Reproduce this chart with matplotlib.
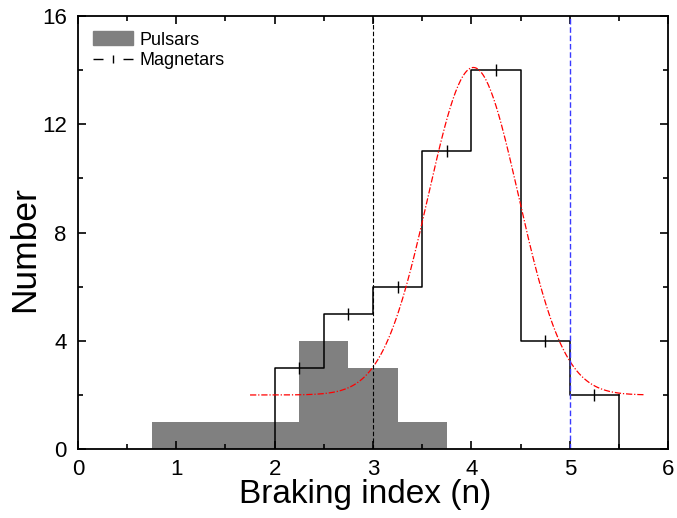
import numpy as np
import matplotlib.pyplot as plt
from matplotlib.lines import Line2D
from matplotlib.patches import Patch
from matplotlib.ticker import MultipleLocator

plt.rcParams['font.family'] = ['Liberation Sans', 'DejaVu Sans']

# pulsar histogram (bin centres, counts)
pulsar_n = [1.0, 1.5, 2.0, 2.5, 3.0, 3.5]
pulsar_count = [1, 1, 1, 4, 3, 1]

# magnetar histogram (bin edges, counts)
mag_edges = [2.0, 2.5, 3.0, 3.5, 4.0, 4.5, 5.0, 5.5]
mag_count = [3, 5, 6, 11, 14, 4, 2]

# gaussian fit to magnetars
fit_y0 = 2.0
fit_amp = 12.1
fit_xc = 4.02
fit_sigma = 0.46
fit_range = (1.75, 5.75)

fig = plt.figure(figsize=(6.77, 5.18), dpi=100)
ax = fig.add_axes([0.115, 0.133, 0.872, 0.836])

ax.bar(pulsar_n, pulsar_count, width=0.5, color='#808080', linewidth=0)

# magnetar step outline
xs = [mag_edges[0]] + mag_edges
ys = [0] + mag_count + [mag_count[-1]]
ax.step(xs, ys, where='post', color='k', lw=1.1)
ax.plot([mag_edges[-1], mag_edges[-1]], [mag_count[-1], 0], color='k', lw=1.1)
centres = [(a + b) / 2 for a, b in zip(mag_edges[:-1], mag_edges[1:])]
ax.plot(centres, mag_count, ls='none', marker='|', ms=8, mew=1.0, color='k')

xf = np.linspace(fit_range[0], fit_range[1], 300)
yf = fit_y0 + fit_amp * np.exp(-(xf - fit_xc) ** 2 / (2 * fit_sigma ** 2))
ax.plot(xf, yf, color='red', lw=0.9, dashes=[5, 1.5, 1, 1.5])

ax.axvline(3, color='k', lw=0.8, ls=(0, (4, 2)))
ax.axvline(5, color='#3a3aff', lw=1.0, ls=(0, (4, 2)))

ax.set_xlim(0, 6)
ax.set_ylim(0, 16)
ax.xaxis.set_major_locator(MultipleLocator(1))
ax.xaxis.set_minor_locator(MultipleLocator(0.5))
ax.yaxis.set_major_locator(MultipleLocator(4))
ax.yaxis.set_minor_locator(MultipleLocator(2))
ax.tick_params(which='both', direction='in', top=True, right=True, width=1.2)
ax.tick_params(which='major', length=6, labelsize=16)
ax.tick_params(axis='x', which='major', pad=7)
ax.tick_params(axis='y', which='major', pad=8)
ax.tick_params(which='minor', length=3.5)
for s in ax.spines.values():
    s.set_linewidth(1.3)

ax.set_xlabel('Braking index (n)', fontsize=24)
ax.set_ylabel('Number', fontsize=25.5)
ax.xaxis.set_label_coords(0.486, -0.068)
ax.yaxis.set_label_coords(-0.062, 0.462)

handles = [Patch(color='#808080', label='Pulsars'),
           Line2D([], [], color='k', lw=1.0, ls=(0, (7.2, 14.4)), marker='|',
                  ms=6, markevery=[1], label='Magnetars')]
leg = ax.legend(handles=handles, loc='upper left', frameon=False, fontsize=13,
                handlelength=2.2, handleheight=0.8, handletextpad=0.35,
                borderaxespad=0.45, labelspacing=0.2)

fig.savefig('out.png', dpi=100)
